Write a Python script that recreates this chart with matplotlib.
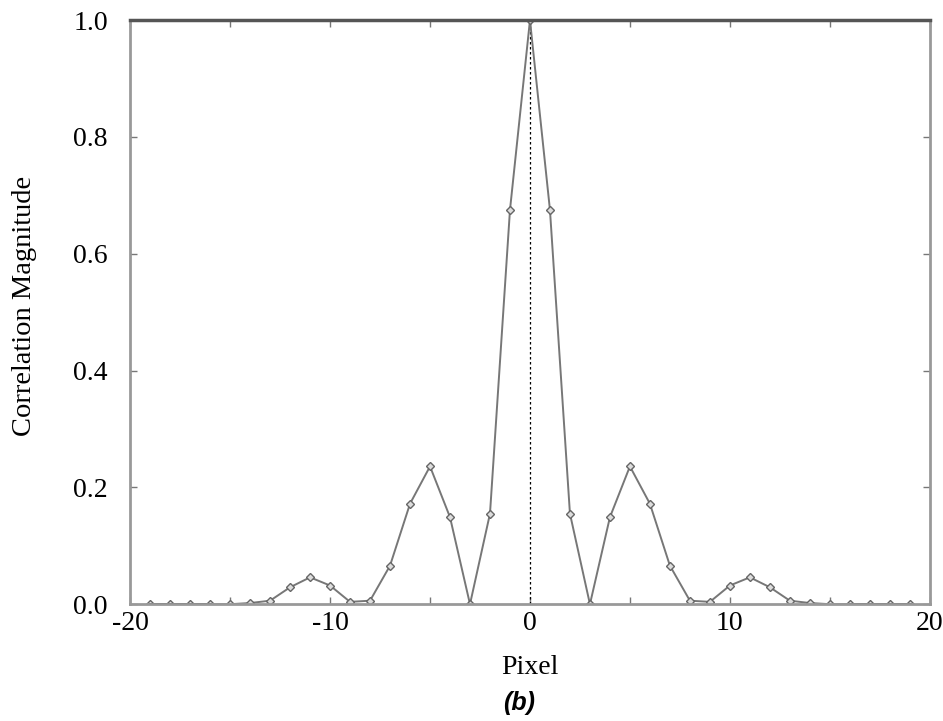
import numpy as np
from matplotlib import pyplot as plt

# correlation magnitude, pixel offsets 0..19 (symmetric)
pixel = np.arange(-19, 20)
half = [1.0, 0.675, 0.155, 0.0, 0.149, 0.236, 0.172, 0.066, 0.006, 0.004,
        0.032, 0.046, 0.029, 0.006, 0.002, 0.0, 0.0, 0.0, 0.0, 0.0]
magnitude = np.array(half[:0:-1] + half)

x_ticks = [-20, -10, 0, 10, 20]
y_ticks = [0.0, 0.2, 0.4, 0.6, 0.8, 1.0]

serif = "Liberation Serif"

fig = plt.figure(figsize=(9.43, 7.21), dpi=100)
ax = fig.add_axes([0.138, 0.162, 0.848, 0.810])

ax.vlines(0, 0, 1, colors="k", linestyles=(0, (2, 2)), linewidth=0.9)
ax.plot(pixel, magnitude, color="#777777", linewidth=1.4,
        marker="D", markersize=4.5, markerfacecolor="#dddddd",
        markeredgecolor="#666666", markeredgewidth=1.0)
# darker flat tails at the ends
ax.plot(pixel[:4], magnitude[:4], color="#333333", linewidth=2)
ax.plot(pixel[-4:], magnitude[-4:], color="#333333", linewidth=2)

ax.set_xlim(-20, 20)
ax.set_ylim(0, 1.0)
ax.set_xticks(x_ticks)
ax.set_xticks(np.arange(-20, 21, 5), minor=True)
ax.set_yticks(y_ticks)
ax.set_xticklabels([str(v) for v in x_ticks])
ax.set_yticklabels(["%.1f" % v for v in y_ticks])

for s in ["left", "right", "bottom"]:
    ax.spines[s].set_color("#999999")
    ax.spines[s].set_linewidth(2)
ax.spines["top"].set_color("#555555")
ax.spines["top"].set_linewidth(2.5)

ax.tick_params(which="both", direction="in", length=5, width=1, color="#777777",
               top=True, right=True)
ax.tick_params(axis="x", which="major", pad=5)
ax.tick_params(axis="y", which="major", pad=16)
for lab in ax.get_xticklabels() + ax.get_yticklabels():
    lab.set_family(serif)
    lab.set_fontsize(20)

ax.set_xlabel("Pixel", family=serif, fontsize=20)
ax.set_ylabel("Correlation Magnitude", family=serif, fontsize=20.5)
ax.xaxis.set_label_coords(0.5, -0.087)
ax.yaxis.set_label_coords(-0.117, 0.51)
fig.text(0.551, 0.025, "(b)", family="Liberation Sans", fontsize=18,
         fontweight="bold", fontstyle="italic", ha="center", va="center")

fig.savefig("out.png", dpi=100)
